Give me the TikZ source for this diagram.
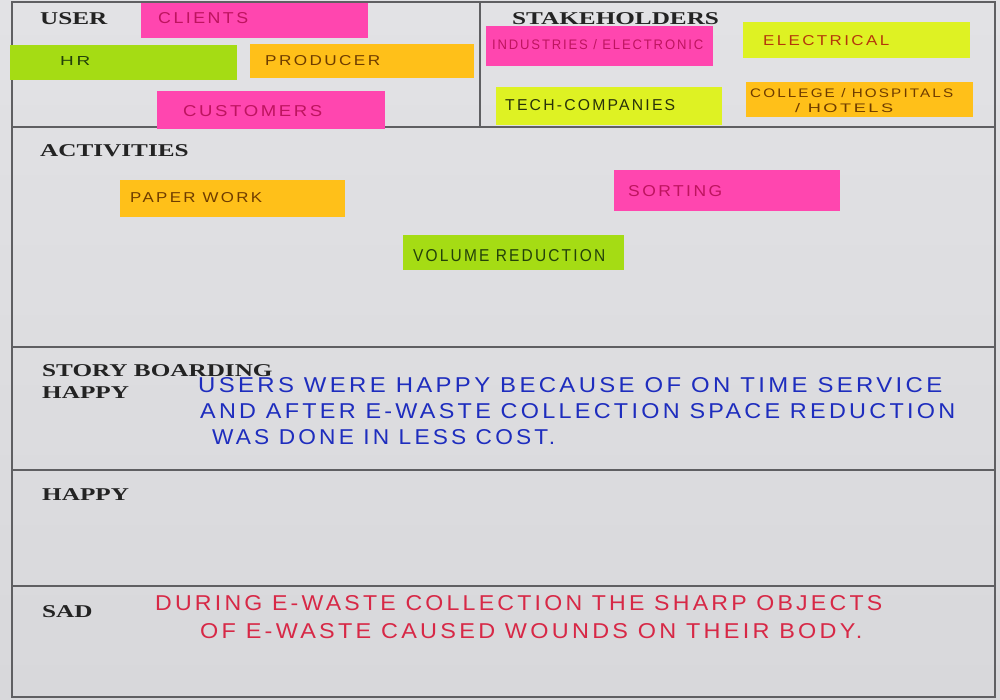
\documentclass[tikz,border=0pt]{standalone}
\usepackage{fontspec}
\setmainfont{Liberation Serif}
\newfontfamily\handfont[LetterSpace=14]{Liberation Sans}
\definecolor{boardtop}{RGB}{226,226,229}
\definecolor{boardbot}{RGB}{216,216,219}
\definecolor{frameline}{RGB}{95,95,98}
\definecolor{npink}{RGB}{255,70,175}
\definecolor{ngreen}{RGB}{165,220,20}
\definecolor{norange}{RGB}{255,192,25}
\definecolor{nyellow}{RGB}{222,242,35}
\definecolor{tpink}{RGB}{190,20,95}
\definecolor{tgreen}{RGB}{35,65,10}
\definecolor{tbrown}{RGB}{110,60,0}
\definecolor{tred}{RGB}{180,55,10}
\definecolor{tdark}{RGB}{40,50,10}
\definecolor{inkblue}{RGB}{30,45,190}
\definecolor{inkred}{RGB}{215,40,70}
\definecolor{lbltxt}{RGB}{35,35,35}
\newcommand{\hw}[3]{\resizebox{#1pt}{#2pt}{\handfont #3}}
\newcommand{\lb}[1]{\scalebox{1.4}[1]{#1}}
\begin{document}
\begin{tikzpicture}[x=1pt,y=1pt,
  frame/.style={draw=frameline,line width=1.3pt},
  notebox/.style={rectangle,inner sep=0pt,draw=none},
  hand/.style={anchor=base west,inner sep=0pt},
  lbl/.style={anchor=base west,inner sep=0pt,text=lbltxt,font=\bfseries\fontsize{18}{18}\selectfont}]
\useasboundingbox (0,0) rectangle (1000,-700);
\shade[top color=boardtop,bottom color=boardbot] (0,0) rectangle (1000,-700);
% frame and sections
\draw[frame] (12,-2) rectangle (995,-697);
\draw[frame] (12,-127) -- (995,-127);
\draw[frame] (480,-2) -- (480,-127);
\draw[frame] (12,-347) -- (995,-347);
\draw[frame] (12,-470) -- (995,-470);
\draw[frame] (12,-586) -- (995,-586);
% labels
\node[lbl] (luser) at (40,-25) {\lb{USER}};
\node[lbl] (lstake) at (512,-25) {\lb{STAKEHOLDERS}};
\node[lbl] (lact) at (40,-157) {\lb{ACTIVITIES}};
\node[lbl] (lstory) at (42,-376) {\lb{STORY BOARDING}};
\node[lbl] (lhappy1) at (42,-398) {\lb{HAPPY}};
\node[lbl] (lhappy2) at (42,-500) {\lb{HAPPY}};
\node[lbl] (lsad) at (42,-617) {\lb{SAD}};
% sticky notes: user
\node[notebox,fill=npink,minimum width=227pt,minimum height=35pt] (clients) at (254.5,-20.5) {};
\node[hand,text=tpink] (tclients) at (158,-24) {\hw{90}{11}{CLIENTS}};
\node[notebox,fill=ngreen,minimum width=227pt,minimum height=35pt] (hr) at (123.5,-62.5) {};
\node[hand,text=tgreen] (thr) at (60,-66) {\hw{30}{9}{HR}};
\node[notebox,fill=norange,minimum width=224pt,minimum height=34pt] (producer) at (362,-61) {};
\node[hand,text=tbrown] (tproducer) at (265,-66) {\hw{115}{10}{PRODUCER}};
\node[notebox,fill=npink,minimum width=228pt,minimum height=38pt] (customers) at (271,-110) {};
\node[hand,text=tpink] (tcustomers) at (183,-117) {\hw{139}{11}{CUSTOMERS}};
% stakeholders
\node[notebox,fill=npink,minimum width=227pt,minimum height=40pt] (industries) at (599.5,-46) {};
\node[hand,text=tpink] (tindustries) at (492,-50) {\hw{211}{10}{INDUSTRIES / ELECTRONIC}};
\node[notebox,fill=nyellow,minimum width=227pt,minimum height=36pt] (electrical) at (856.5,-40) {};
\node[hand,text=tred] (telectrical) at (763,-46) {\hw{126}{10}{ELECTRICAL}};
\node[notebox,fill=nyellow,minimum width=226pt,minimum height=38pt] (tech) at (609,-106) {};
\node[hand,text=tdark] (ttech) at (505,-111) {\hw{170}{11}{TECH-COMPANIES}};
\node[notebox,fill=norange,minimum width=227pt,minimum height=35pt] (college) at (859.5,-99.5) {};
\node[hand,text=tbrown] (tcollege1) at (750,-98) {\hw{203}{9}{COLLEGE / HOSPITALS}};
\node[hand,text=tbrown] (tcollege2) at (795,-113) {\hw{98}{9}{/ HOTELS}};
% activities
\node[notebox,fill=norange,minimum width=225pt,minimum height=37pt] (paper) at (232.5,-198.5) {};
\node[hand,text=tbrown] (tpaper) at (130,-203) {\hw{132}{10}{PAPER WORK}};
\node[notebox,fill=npink,minimum width=226pt,minimum height=41pt] (sorting) at (727,-190.5) {};
\node[hand,text=tpink] (tsorting) at (628,-197) {\hw{94}{11}{SORTING}};
\node[notebox,fill=ngreen,minimum width=221pt,minimum height=35pt] (volume) at (513.5,-252.5) {};
\node[hand,text=tgreen] (tvolume) at (413,-262) {\hw{192}{12}{VOLUME REDUCTION}};
% story boarding text
\node[hand,text=inkblue] (b1) at (198,-392) {\hw{744}{15}{USERS WERE HAPPY BECAUSE OF ON TIME SERVICE}};
\node[hand,text=inkblue] (b2) at (200,-418) {\hw{755}{15}{AND AFTER E-WASTE COLLECTION SPACE REDUCTION}};
\node[hand,text=inkblue] (b3) at (212,-444) {\hw{343}{15}{WAS DONE IN LESS COST.}};
\node[hand,text=inkred] (r1) at (155,-610) {\hw{727}{15}{DURING E-WASTE COLLECTION THE SHARP OBJECTS}};
\node[hand,text=inkred] (r2) at (200,-638) {\hw{662}{15}{OF E-WASTE CAUSED WOUNDS ON THEIR BODY.}};
\end{tikzpicture}
\end{document}
